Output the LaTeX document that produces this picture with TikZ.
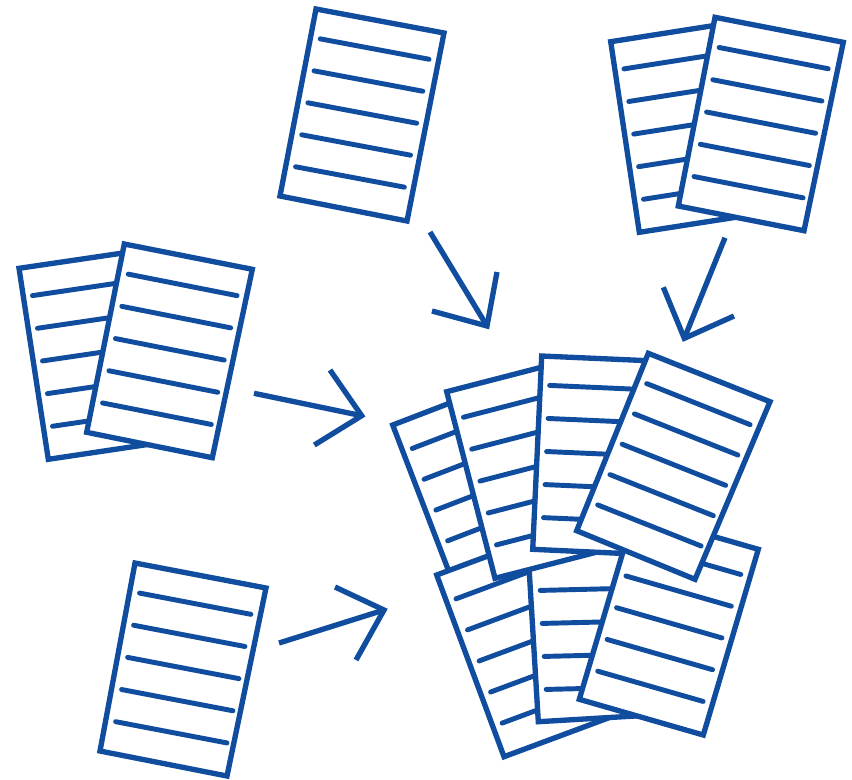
\documentclass[tikz,border=0pt]{standalone}
\usetikzlibrary{calc}
\definecolor{inkblue}{HTML}{104D9F}
\tikzset{
  sheetedge/.style={draw=inkblue,fill=white,line width=4pt,line join=miter},
  sheetline/.style={draw=inkblue,line width=3.7pt,line cap=round},
  arrowshaft/.style={draw=inkblue,line width=4pt},
  arrowbarbs/.style={draw=inkblue,line width=4pt,line join=miter}
}
% name, TL, TR, BR, BL, line numbers
\newcommand\sheet[6]{%
  \coordinate (#1-tl) at (#2);
  \coordinate (#1-tr) at (#3);
  \coordinate (#1-br) at (#4);
  \coordinate (#1-bl) at (#5);
  \draw[sheetedge] (#1-tl) -- (#1-tr) -- (#1-br) -- (#1-bl) -- cycle;
  \foreach \n in {#6}{%
    \pgfmathsetmacro{\vv}{0.15+0.171*(\n-1)}%
    \draw[sheetline]
      ($(#1-tl)!0.075!(#1-tr)+\vv*(#1-bl)-\vv*(#1-tl)$) --
      ($(#1-tl)!0.925!(#1-tr)+\vv*(#1-bl)-\vv*(#1-tl)$);
  }%
}
% name, tail, tip, barb 1, barb 2
\newcommand\bigarrow[5]{%
  \coordinate (#1-tail) at (#2);
  \coordinate (#1-tip) at (#3);
  \coordinate (#1-b1) at (#4);
  \coordinate (#1-b2) at (#5);
  \draw[arrowshaft] (#1-tail) -- (#1-tip);
  \draw[arrowbarbs] (#1-b1) -- (#1-tip) -- (#1-b2);
}
\begin{document}
\begin{tikzpicture}[x=0.75pt,y=-0.75pt]
\useasboundingbox (0,0) rectangle (852,779);
% top single
\sheet{top}{316,9}{444,33}{407,221}{280,196}{1,2,3,4,5}
% top-right stack
\sheet{trb}{610.7,41.7}{730,23}{767.7,212.3}{639.3,232.3}{1,2,3,4,5}
\sheet{trf}{715,17.3}{843.3,42.3}{804,230.7}{678.3,206}{1,2,3,4,5}
% left stack
\sheet{lb}{19,268.3}{140,250.5}{177.7,440}{48.3,459.3}{1,2,3,4,5}
\sheet{lf}{124.3,244}{252.3,269.3}{212.3,457.7}{86.7,432.3}{1,2,3,4,5}
% bottom-left single
\sheet{bot}{135,563}{266,588}{227,776}{100,751}{1,2,3,4,5}
% central pile
\sheet{pa}{392.7,425}{515,378}{584,558}{461.7,605}{1,2,3,4,5}
\sheet{pe}{436.7,575}{559.7,529.3}{627,711}{504,756.7}{1,2,3,4,5}
\sheet{pf}{526.7,528.7}{657.3,525.5}{669,714}{538.3,721.7}{2,3,4,5}
\sheet{pb}{446.7,391.7}{573.3,359}{621.7,545.7}{495,578.3}{1,2,3,4,5}
\sheet{pc}{541.7,356}{666,361.5}{657,555}{532.7,549.3}{1,2,3,4,5}
\sheet{pg}{634.3,513.7}{758.3,549.3}{703.3,735}{579.3,699.3}{1,2,3,4,5}
\sheet{pd}{648.3,353.3}{770,401.7}{695,579.3}{576.7,530.7}{1,2,3,4,5}
% arrows
\bigarrow{a1}{430,232}{487,326}{497,272}{432,311}
\bigarrow{a2}{725,237.7}{684.3,338.3}{663.3,287.3}{734,316}
\bigarrow{a3}{254,393.3}{361.7,415.7}{330,370}{314.3,445}
\bigarrow{a4}{279,643}{384,610}{335,587}{356,660}
\end{tikzpicture}
\end{document}
